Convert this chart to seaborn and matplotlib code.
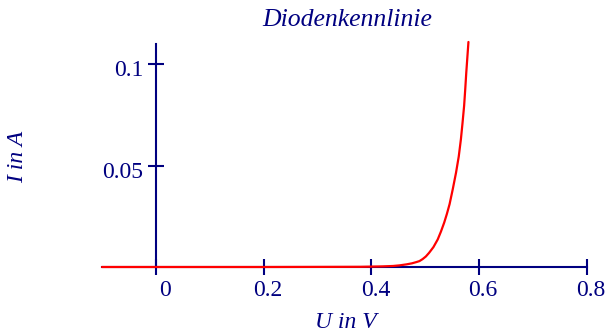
import matplotlib
matplotlib.use("Agg")
import matplotlib.pyplot as plt
import matplotlib.transforms as mtransforms
import seaborn as sns
import pandas as pd

# Values
U_volts = [-0.10, 0.00, 0.20, 0.30, 0.38, 0.42, 0.44, 0.452, 0.465, 0.475, 0.483, 0.489,
           0.495, 0.501, 0.507, 0.515, 0.523, 0.529, 0.535, 0.540, 0.545, 0.551, 0.557,
           0.562, 0.566, 0.569, 0.572, 0.574, 0.576, 0.578, 0.580]
I_amps = [0.0, 0.0, 0.0, 0.00005, 0.0001, 0.0003, 0.0005, 0.0008, 0.0013, 0.0018,
          0.0024, 0.0029, 0.0039, 0.0052, 0.0070, 0.0098, 0.0136, 0.0175, 0.0219,
          0.0262, 0.0310, 0.0385, 0.0466, 0.0545, 0.0630, 0.0710, 0.0796, 0.0875,
          0.0960, 0.1035, 0.1110]
x_ticks = [0, 0.2, 0.4, 0.6, 0.8]
x_tick_labels = ["0", "0.2", "0.4", "0.6", "0.8"]
y_ticks = [0.05, 0.1]
y_tick_labels = ["0.05", "0.1"]
title_text = "Diodenkennlinie"
x_label = "U in V"
y_label = "I in A"

navy = "#000080"
df = pd.DataFrame({"U": U_volts, "I": I_amps})

sns.set_theme(style="white")
plt.rcParams["font.family"] = ["Liberation Serif", "DejaVu Serif"]

fig = plt.figure(figsize=(6.06, 3.36), dpi=100)
ax = fig.add_axes([102 / 606, 1 - 267 / 336, (587 - 102) / 606, (267 - 44) / 336])

sns.lineplot(data=df, x="U", y="I", color="red", lw=1.6, ax=ax, zorder=3,
             clip_on=False)

ax.set_xlim(-0.1, 0.8)
ax.set_ylim(0, 0.11)

for s in ["top", "right"]:
    ax.spines[s].set_visible(False)
ax.spines["left"].set_position(("data", 0))
ax.spines["bottom"].set_position(("data", 0))
for s in ["left", "bottom"]:
    ax.spines[s].set_color(navy)
    ax.spines[s].set_linewidth(1.5)

ax.set_xticks(x_ticks)
ax.set_xticklabels(x_tick_labels)
ax.set_yticks(y_ticks)
ax.set_yticklabels(y_tick_labels)
ax.tick_params(axis="both", direction="inout", length=12, width=1.5,
               color=navy, labelcolor=navy, labelsize=17,
               bottom=True, left=True, top=False, right=False)
ax.tick_params(axis="x", pad=3)
ax.tick_params(axis="y", pad=3)

# small offsets of tick labels as in the reference
for lab in ax.get_xticklabels():
    dx = 9 if lab.get_text() == "0" else 4
    lab.set_transform(lab.get_transform() + mtransforms.ScaledTranslation(dx / 100, 0, fig.dpi_scale_trans))
for lab in ax.get_yticklabels():
    lab.set_transform(lab.get_transform() + mtransforms.ScaledTranslation(0, -4 / 100, fig.dpi_scale_trans))

ax.set_xlabel("")
ax.set_ylabel("")
ax.grid(False)

fig.text(347 / 606, 1 - 20 / 336, title_text, ha="center", va="center",
         fontsize=18.5, style="italic", color=navy)
fig.text(346 / 606, 1 - 323 / 336, x_label, ha="center", va="center",
         fontsize=17, style="italic", color=navy)
fig.text(18 / 606, 1 - 157 / 336, y_label, ha="center", va="center",
         fontsize=17, style="italic", color=navy, rotation=90)

fig.savefig("out.png", dpi=100, facecolor="white")
